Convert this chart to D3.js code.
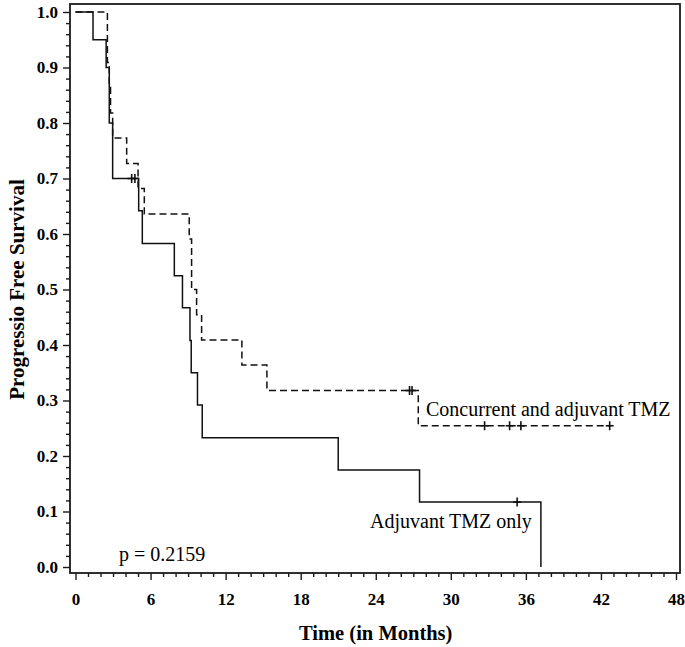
<!DOCTYPE html>
<html>
<head>
<meta charset="utf-8">
<script src="https://cdn.jsdelivr.net/npm/d3@7"></script>
<style>
  html, body { margin: 0; padding: 0; background: #fff; }
  svg { display: block; }
  text { font-family: "Liberation Serif", "Times New Roman", serif; fill: #000; }
</style>
</head>
<body>
<div id="chart"></div>
<script>
// ---- Data ----
const adjTimes = [0, 1.4, 2.45, 2.7, 2.97, 5.05, 5.34, 7.9, 8.55, 9.15, 9.25, 9.75, 10.13, 21.0, 27.5, 37.2];
const adjSurv  = [1.0, 0.95, 0.90, 0.80, 0.70, 0.642, 0.583, 0.525, 0.467, 0.408, 0.350, 0.292, 0.233, 0.175, 0.117, 0.0];
const adjCensorTimes = [4.49, 4.75, 35.3];

const concTimes = [0, 2.55, 2.7, 2.8, 2.97, 4.09, 5.0, 5.5, 9.09, 9.28, 9.68, 10.08, 13.3, 15.3, 27.4, 42.7];
const concSurv  = [1.0, 0.909, 0.864, 0.818, 0.773, 0.727, 0.682, 0.636, 0.591, 0.500, 0.4545, 0.409, 0.364, 0.318, 0.2545, 0.2545];
const concCensorTimes = [26.7, 26.9, 32.7, 34.7, 35.6, 42.7];

const xTicks = [0, 6, 12, 18, 24, 30, 36, 42, 48];
const yTicks = [0, 0.1, 0.2, 0.3, 0.4, 0.5, 0.6, 0.7, 0.8, 0.9, 1.0];
const groupLabels = ["Concurrent and adjuvant TMZ", "Adjuvant TMZ only"];
const pText = "p = 0.2159";
const xTitle = "Time (in Months)";
const yTitle = "Progressio Free Survival";

// ---- Layout ----
const W = 685, H = 647;
const frame = { left: 70, top: 4, right: 680, bottom: 573 };

const svg = d3.select("#chart").append("svg").attr("width", W).attr("height", H);

const x = d3.scaleLinear().domain([0, 48]).range([75.5, 676]);
const y = d3.scaleLinear().domain([0, 1]).range([567, 12]);

// Frame
svg.append("rect")
  .attr("x", frame.left).attr("y", frame.top)
  .attr("width", frame.right - frame.left).attr("height", frame.bottom - frame.top)
  .attr("fill", "none").attr("stroke", "#1a1a1a").attr("stroke-width", 1.8);

// Minor ticks
const xMinor = d3.range(0, 49, 1).filter(v => v % 6 !== 0);
const yMinor = d3.range(0, 51, 1).map(v => v / 50).filter((v, i) => i % 5 !== 0);

const xMinorAxis = d3.axisBottom(x).tickValues(xMinor).tickSize(4).tickFormat("").tickSizeOuter(0);
svg.append("g").attr("transform", `translate(0,${frame.bottom})`).call(xMinorAxis)
  .call(g => g.select(".domain").remove());
const yMinorAxis = d3.axisLeft(y).tickValues(yMinor).tickSize(4).tickFormat("").tickSizeOuter(0);
svg.append("g").attr("transform", `translate(${frame.left},0)`).call(yMinorAxis)
  .call(g => g.select(".domain").remove());

// Major ticks
const xAxis = d3.axisBottom(x).tickValues(xTicks).tickSize(7).tickPadding(13).tickSizeOuter(0).tickFormat(d3.format("d"));
const gx = svg.append("g").attr("transform", `translate(0,${frame.bottom})`).call(xAxis);
gx.select(".domain").remove();
gx.selectAll(".tick text").attr("font-size", 17).attr("font-weight", "bold")
  .attr("font-family", '"Liberation Serif", "Times New Roman", serif').attr("fill", "#000");

const yAxis = d3.axisLeft(y).tickValues(yTicks).tickSize(7).tickPadding(5).tickSizeOuter(0).tickFormat(d3.format(".1f"));
const gy = svg.append("g").attr("transform", `translate(${frame.left},0)`).call(yAxis);
gy.select(".domain").remove();
gy.selectAll(".tick text").attr("font-size", 17).attr("font-weight", "bold")
  .attr("font-family", '"Liberation Serif", "Times New Roman", serif').attr("fill", "#000");

svg.selectAll(".tick line").attr("stroke", "#1a1a1a").attr("stroke-width", 1.4);

// Curves
const line = d3.line().x(d => x(d[0])).y(d => y(d[1])).curve(d3.curveStepAfter);
const adjPts = adjTimes.map((t, i) => [t, adjSurv[i]]);
const concPts = concTimes.map((t, i) => [t, concSurv[i]]);

svg.append("path").attr("d", line(concPts)).attr("fill", "none")
  .attr("stroke", "#111").attr("stroke-width", 1.5).attr("stroke-dasharray", "7,4");
svg.append("path").attr("d", line(adjPts)).attr("fill", "none")
  .attr("stroke", "#111").attr("stroke-width", 1.5);

// Censor marks
function survAt(times, surv, t) {
  const i = d3.bisectRight(times, t) - 1;
  return surv[Math.max(0, i)];
}
function drawCensors(times, surv, ctimes) {
  ctimes.forEach(t => {
    const cx = x(t), cy = y(survAt(times, surv, t));
    svg.append("line").attr("x1", cx).attr("x2", cx).attr("y1", cy - 4.5).attr("y2", cy + 4.5)
      .attr("stroke", "#111").attr("stroke-width", 1.6);
    svg.append("line").attr("x1", cx - 4).attr("x2", cx + 4).attr("y1", cy).attr("y2", cy)
      .attr("stroke", "#111").attr("stroke-width", 1.6);
  });
}
drawCensors(adjTimes, adjSurv, adjCensorTimes);
drawCensors(concTimes, concSurv, concCensorTimes);

// Labels
svg.append("text").attr("x", 426).attr("y", 416).attr("font-size", 20).text(groupLabels[0]);
svg.append("text").attr("x", 370).attr("y", 528).attr("font-size", 20).text(groupLabels[1]);
svg.append("text").attr("x", 119).attr("y", 561).attr("font-size", 20).text(pText);

// Axis titles
svg.append("text").attr("x", (x(0) + x(48)) / 2).attr("y", 640).attr("text-anchor", "middle")
  .attr("font-size", 20.5).attr("font-weight", "bold").text(xTitle);
svg.append("text").attr("transform", `translate(24,${y(0.5)}) rotate(-90)`).attr("text-anchor", "middle")
  .attr("font-size", 21).attr("font-weight", "bold").text(yTitle);
</script>
</body>
</html>
